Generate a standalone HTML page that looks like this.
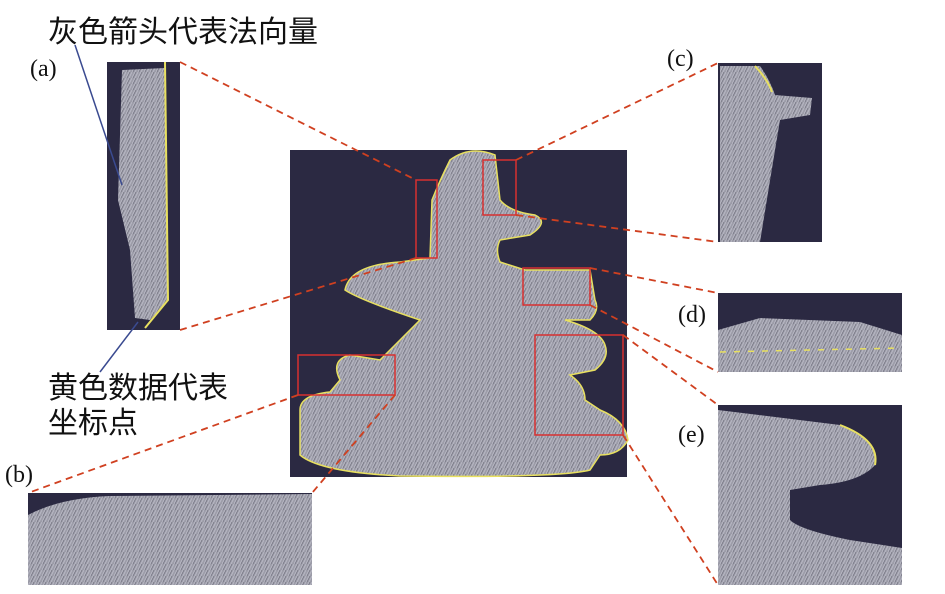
<!DOCTYPE html>
<html><head><meta charset="utf-8"><style>
html,body{margin:0;padding:0;background:#fff;width:945px;height:594px;overflow:hidden}
</style></head><body>
<svg width="945" height="594" viewBox="0 0 945 594" xmlns="http://www.w3.org/2000/svg" font-family="'Liberation Serif','Noto Serif CJK SC',serif">
<defs>
<pattern id="tx" width="6" height="6" patternUnits="userSpaceOnUse">
<rect width="6" height="6" fill="#9c9ca8"/><path d="M0 6L3 0M3 6L6 0" stroke="#b8b8c4" stroke-width="1"/><path d="M1 6L4 0" stroke="#6f6f7c" stroke-width="0.6"/>
</pattern>
</defs>
<rect x="290" y="150" width="337" height="327" fill="#2b2942"/>
<path d="M300 410 Q300 395 330 392 L340 380 Q330 360 350 355 L380 360 Q400 340 420 320 Q360 300 345 290 Q350 265 400 262 L430 258 L432 200 Q440 180 450 160 Q470 145 495 155 L500 200 Q510 212 535 215 Q550 222 530 235 L500 240 Q495 250 500 262 L525 270 L590 270 L595 300 Q600 310 590 320 L565 320 Q600 330 605 345 Q610 358 595 370 L570 375 Q585 385 585 400 L600 410 Q625 420 628 440 Q620 455 600 455 L590 470 Q560 478 400 476 Q320 472 300 455 Z" fill="url(#tx)" stroke="#e8e060" stroke-width="1.5"/>
<rect x="107" y="62" width="73" height="268" fill="#2b2942"/>
<path d="M122 70 L165 68 L168 300 L150 320 L135 318 L130 250 L118 200 Z" fill="url(#tx)"/>
<path d="M165 62 L168 300 L145 328" fill="none" stroke="#e8e060" stroke-width="2"/>
<rect x="718" y="63" width="104" height="179" fill="#2b2942"/>
<path d="M720 66 L760 66 Q770 80 775 95 L812 98 L810 115 L780 120 Q770 180 760 242 L720 242 Z" fill="url(#tx)"/>
<path d="M755 66 Q768 80 772 92" fill="none" stroke="#e8e060" stroke-width="2"/>
<rect x="718" y="293" width="184" height="79" fill="#2b2942"/>
<path d="M718 330 L760 318 L860 322 L902 335 L902 372 L718 372 Z" fill="url(#tx)"/>
<path d="M720 352 L900 348" stroke="#e8e060" stroke-width="1.5" stroke-dasharray="6 8"/>
<rect x="718" y="405" width="184" height="180" fill="#2b2942"/>
<path d="M718 410 L840 425 Q880 440 875 465 Q860 482 820 485 L790 490 L790 520 Q800 530 850 540 L902 548 L902 585 L718 585 Z" fill="url(#tx)"/>
<path d="M840 425 Q880 440 875 465" fill="none" stroke="#e8e060" stroke-width="2"/>
<rect x="28" y="493" width="284" height="92" fill="#2b2942"/>
<path d="M28 515 Q60 498 110 496 L312 494 L312 585 L28 585 Z" fill="url(#tx)"/>
<g fill="none" stroke="#d83030" stroke-width="1.5">
<rect x="416" y="180" width="21" height="78"/>
<rect x="483" y="160" width="33" height="55"/>
<rect x="523" y="268" width="67" height="37"/>
<rect x="298" y="355" width="97" height="40"/>
<rect x="535" y="335" width="88" height="100"/>
</g>
<g stroke="#d04020" stroke-width="1.8" stroke-dasharray="7 5" fill="none">
<line x1="180" y1="62" x2="416" y2="180"/>
<line x1="180" y1="330" x2="416" y2="258"/>
<line x1="516" y1="160" x2="718" y2="63"/>
<line x1="516" y1="215" x2="718" y2="242"/>
<line x1="590" y1="268" x2="718" y2="293"/>
<line x1="590" y1="305" x2="718" y2="372"/>
<line x1="623" y1="335" x2="718" y2="405"/>
<line x1="623" y1="435" x2="718" y2="585"/>
<line x1="298" y1="395" x2="28" y2="493"/>
<line x1="395" y1="395" x2="312" y2="493"/>
</g>
<g stroke="#3a4a90" stroke-width="1.5">
<line x1="75" y1="45" x2="122" y2="185"/>
<line x1="138" y1="322" x2="100" y2="372"/>
</g>
<g font-size="30" fill="#111" font-family="'Liberation Sans','Noto Sans CJK SC',sans-serif">
<text x="48" y="42">灰色箭头代表法向量</text>
<text x="48" y="398">黄色数据代表</text>
<text x="48" y="433">坐标点</text>
</g>
<g font-size="24" fill="#111">
<text x="30" y="76">(a)</text>
<text x="667" y="66">(c)</text>
<text x="678" y="322">(d)</text>
<text x="678" y="442">(e)</text>
<text x="5" y="482">(b)</text>
</g>
</svg>
</body></html>
